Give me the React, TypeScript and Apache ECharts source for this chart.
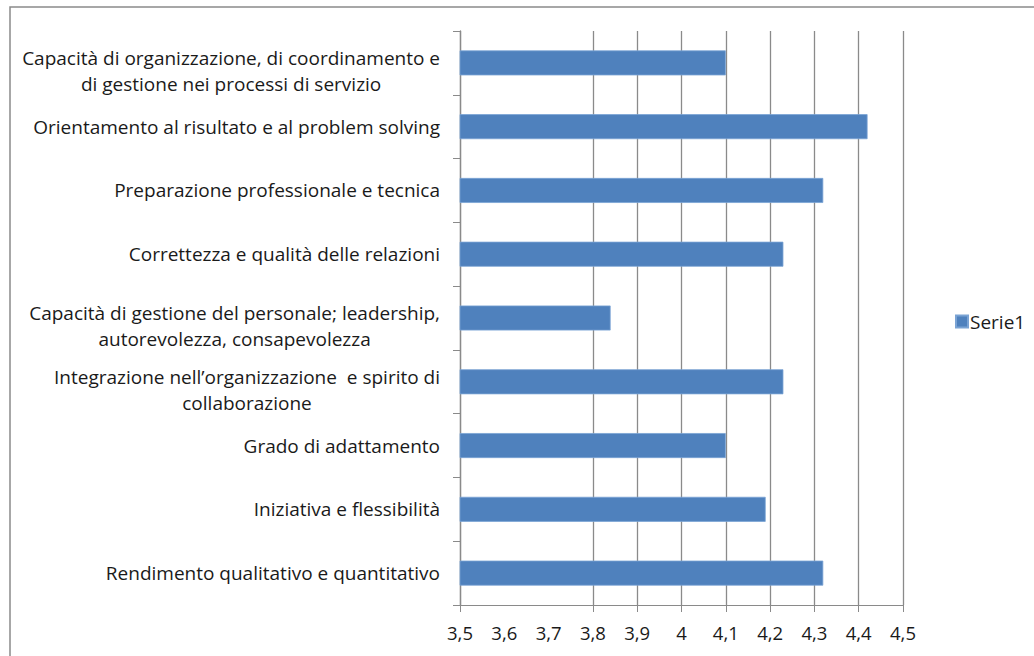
import React, { useEffect, useRef } from "react";
import * as echarts from "echarts";

const categories: string[] = [
  "Capacità di organizzazione, di coordinamento e\ndi gestione nei processi di servizio",
  "Orientamento al risultato e al problem solving",
  "Preparazione professionale e tecnica",
  "Correttezza e qualità delle relazioni",
  "Capacità di gestione del personale; leadership,\nautorevolezza, consapevolezza",
  "Integrazione nell’organizzazione  e spirito di\ncollaborazione",
  "Grado di adattamento",
  "Iniziativa e flessibilità",
  "Rendimento qualitativo e quantitativo",
];

const serie1: number[] = [4.1, 4.42, 4.32, 4.23, 3.84, 4.23, 4.1, 4.19, 4.32];

const tickValues: number[] = [3.5, 3.8, 3.9, 4.0, 4.1, 4.2, 4.3, 4.4, 4.5];

const seriesName = "Serie1";

export default function App() {
  const ref = useRef<HTMLDivElement>(null);

  useEffect(() => {
    if (!ref.current) return;
    const chart = echarts.init(ref.current, null, { renderer: "svg" });
    const font = "Open Sans";
    chart.setOption({
      animation: false,
      backgroundColor: "#ffffff",
      textStyle: { fontFamily: font },
      graphic: [
        {
          type: "rect",
          shape: { x: 10, y: 7, width: 1100, height: 720 },
          style: { fill: "none", stroke: "#8a8a8a", lineWidth: 1.5 },
          silent: true,
          z: -10,
        },
      ],
      legend: {
        data: [seriesName],
        left: 955,
        top: 312,
        padding: 0,
        icon: "rect",
        itemWidth: 12,
        itemHeight: 12,
        itemGap: 4,
        textStyle: { fontFamily: font, fontSize: 19, color: "#1a1a1a", padding: [0, 0, 0, -3] },
      },
      grid: { left: 460, right: 131, top: 31, bottom: 51, containLabel: false },
      xAxis: {
        type: "value",
        min: 3.5,
        max: 4.5,
        interval: 0.1,
        axisLine: { show: true, lineStyle: { color: "#8a8a8a", width: 1 } },
        axisTick: { show: true, length: 7, customValues: tickValues, lineStyle: { color: "#8a8a8a" } },
        splitLine: { show: true, lineStyle: { color: "#8a8a8a", width: 1.3 } },
        axisLabel: {
          margin: 18,
          fontFamily: font,
          fontSize: 18.5,
          color: "#1a1a1a",
          formatter: (v: number) => String(Math.round(v * 10) / 10).replace(".", ","),
        },
      },
      yAxis: {
        type: "category",
        inverse: true,
        data: categories,
        axisLine: { show: true, lineStyle: { color: "#8a8a8a", width: 1.3 } },
        axisTick: { show: true, length: 7, lineStyle: { color: "#8a8a8a" } },
        axisLabel: {
          margin: 20,
          align: "right",
          formatter: (v: string) => {
            const lines = v.split("\n");
            const body = lines.map((l) => `{c|${l}}`).join("\n");
            return lines.length > 1 ? `{s| }\n${body}` : body;
          },
          rich: {
            c: { align: "center", fontFamily: font, fontSize: 19, color: "#1a1a1a", lineHeight: 26 },
            s: { fontSize: 1, lineHeight: 16, height: 16 },
          },
        },
      },
      series: [
        {
          name: seriesName,
          type: "bar",
          data: serie1,
          barWidth: 25,
          itemStyle: { color: "#4f81bd", borderColor: "#7aa3d4", borderWidth: 0.8 },
          z: 3,
        },
      ],
    });
    return () => chart.dispose();
  }, []);

  return (
    <div
      ref={ref}
      style={{ position: "fixed", left: 0, top: 0, width: 1034, height: 656 }}
    />
  );
}
